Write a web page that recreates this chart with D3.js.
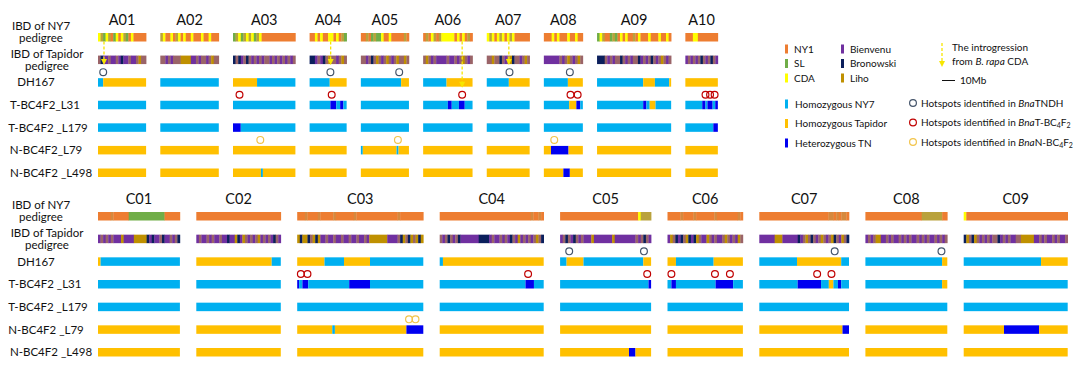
<!DOCTYPE html>
<meta charset="utf-8">
<script src="https://cdn.jsdelivr.net/npm/d3@7"></script>
<style>
  body { margin: 0; background: #fff; }
  text { font-family: Lato, "Liberation Sans", sans-serif; fill: #111; }
</style>
<div id="chart"></div>
<script>
    // chromosome names and lengths (Mb)
    const chromNames = ["A01","A02","A03","A04","A05","A06","A07","A08","A09","A10",
                        "C01","C02","C03","C04","C05","C06","C07","C08","C09"];
    const chromLengths = [37,45,48,28.5,37,38,33,30,57,25,
                          63,65,97,80,70,58,69,63,80];

    // IBD of NY7 pedigree, one char per bin (O NY1, G SL, Y CDA, o/d mixed)
    const ny7Ibd = [
        "YoGYoOGYOYoGOYOOOOO",
        "oYOOYOoYOYOOYOOOYOOYOOO",
        "GoYGoYoYGoYOOOOOOOOOOOOO",
        "OOYOYOOYYOYOoG",
        "OOoOGoGGYOOYOOOOOoO",
        "OoOYoOoYYYYYOYOYOoO",
        "YoYOYoYOYoYOOOOOO",
        "OOOYOYOOOYOOYOO",
        "GYoOOGoGOYOYOOoOYOOOYOOOYOOYO",
        "OOOYYOOOOOOOO",
        "OOOOOdOOOOOOGGGGGGGGGGGGGGOOOOOO",
        "O",
        "OOOdOOOOdOOOOOdOOOOOOOdOOOOOOOOOOOOOOOOdOOOOOOOOO",
        "OOOOOOOOOOOOOOOOOOOOOOOOOOOOOOOOOOOdOOdO",
        "OOOOOOOOOOOOOOOOOOOOOOOOOOOOOOYoooo",
        "OOOOOdOOOOdOOOOOOOdOOOOOOOOdO",
        "OOOOOOOOOOOOOOOOOOOOOOOOOOOddOdOddO",
        "OOOOOOOOOOOOOOOOOOOOOOooooooooOO",
        "YOOOOOOOOOOOOOOOOOOOOOOOOOOOOOOOOOOOOOOO"
    ];

    // IBD of Tapidor pedigree (P Bienvenu, B Bronowski, L Liho, m mixed)
    const tapIbd = [
        "mBPPmPPmPBPPmPPmLmm",
        "mmPmPmmmLLLLPPmPmmPmLmm",
        "BmBPmBmPmPmPmmPmPmPmPmPm",
        "BBPmPBmLmmPmLm",
        "mmPmBmLmPmLmPmLmmLm",
        "mLmPmPPPPmPPmPmLmPm",
        "mmLmmBmPmLBmmPmLm",
        "PPPPPPmPmLmPmLm",
        "BBBmPmPmmBmPmPmmBPmPmBmPmLmPm",
        "PmPmPmBmPmBmP",
        "PmPmPmPPPLPPPPLLLLLBPBPPmBPPmPmB",
        "PmPPmPmPPmPPBPPLBPLmPmPmLPmPmPBmP",
        "LBLLBmLBLPPmPPmPPmPPmPPmPPmPLLLLLLLPPPPmBLmBLmLBL",
        "mPmBmPmBPPPPPPPBBBBPmPPmPmPBmPLPmPmPmLmB",
        "PmBmPBmPmPPPLPPPPPPPLPPPPPPPPmPmBmP",
        "PLmBPBmLBPBLmPPLmPmPPmLmPmPLm",
        "PPPPPPLLLPPPPPPBPmLmBmPmLmPmLBmPLmB",
        "PmPmLLPPmPmPPmPmPmPPmPmPmPPmPmPm",
        "BLmBLmPmPmPmmBPmPmPPmmLLLLLPPmPmPPmPmPPm"
    ];

    // genotype rows: type, breakpoint (Mb), type, ...  (N NY7, T Tapidor, H het)
    const dh167 = [
        ["N",4,"T"], ["N"], ["T",18.5,"N"], ["N",15.5,"T"], ["N",31,"T"],
        ["N",18,"T"], ["N",17,"T"], ["N",18.5,"T"], ["N",35.5,"T",44.5,"N",55.5,"T"], ["T"],
        ["T",2,"N"], ["T",58,"N"], ["T",21,"N",36,"T",56,"N"], ["N",2.5,"T"],
        ["N",5,"T",18,"N",64,"T"], ["T",6.5,"N",35.5,"T"], ["N",29,"T",63,"N"],
        ["N",59,"T"], ["N",59.5,"T"]
    ];
    const l31 = [
        ["N"], ["N"], ["N"], ["N",16,"H",20.5,"N",23.5,"H",26,"N"], ["N"],
        ["N",19,"H",22,"N",27.5,"H",32,"N"], ["N"], ["N",19.5,"T",25,"H",28,"N"],
        ["N",35.5,"H",38,"N",40.5,"T",45,"N"], ["N",13,"H",15.5,"N",17,"H",21,"N",23,"H"],
        ["N"], ["N"], ["H",1.5,"N",4,"H",8.5,"N",40,"H",56,"N"], ["N",66,"H",72.5,"N"],
        ["N",68,"H"], ["N",3,"H",6.5,"N",37,"H",50.5,"N"],
        ["N",29.5,"H",47.5,"N",53.5,"T",57,"N",60.5,"H",63,"N"], ["N",59,"T"], ["N"]
    ];
    const l179 = [
        ["N"], ["N"], ["H",6,"N"], ["N"], ["N"], ["N"], ["N"], ["N"], ["N"], ["N",21.5,"H"],
        ["N"], ["N"], ["N"], ["N"], ["N"], ["N"], ["N"], ["N"], ["N"]
    ];
    const l79 = [
        ["T"], ["T"], ["T"], ["T"], ["N",1.5,"T",27.5,"N",29,"T"], ["T"], ["T"],
        ["T",5.5,"H",19,"T"], ["T"], ["T"],
        ["T"], ["T"], ["T",27,"N",29,"T",84,"H"], ["T"], ["T"], ["T"], ["T",64,"H"],
        ["T"], ["T",31,"H",58,"T"]
    ];
    const l498 = [
        ["T"], ["T"], ["T",21.5,"N",23,"T"], ["T"], ["T"], ["T"], ["T"],
        ["T",15,"H",20,"T"], ["T"], ["T"],
        ["T"], ["T"], ["T"], ["T"], ["T",53,"H",58,"T"], ["T"], ["T"], ["T"], ["T"]
    ];

    // hotspots [chromosome, Mb]
    const dhHotspots = [["A01",4],["A04",16],["A05",29.5],["A07",17.5],["A08",20],
                        ["C05",7],["C05",64.5],["C07",58],["C08",58.5]];
    const tHotspots = [["A03",5],["A04",17],["A06",30],["A08",20.5],["A08",26],
                       ["A10",15.5],["A10",19],["A10",22.5],["C03",2.8],["C03",7.9],
                       ["C04",68],["C05",67],["C06",3],["C06",36.5],["C06",48],
                       ["C07",44.5],["C07",55.5]];
    const nHotspots = [["A03",21],["A05",28.5],["A08",8],["C03",86],["C03",91]];

    // introgression from B. rapa CDA [chromosome, Mb, last row reached]
    const introgressions = [["A01",4.6,"tap"],["A04",16.2,"tap"],["A06",30,"dh"],["A07",17,"tap"]];

    const rowKeys = ["ny7","tap","dh","l31","l179","l79","l498"];
    const labelsA = [["IBD of NY7","pedigree"],["IBD of Tapidor","pedigree"],["DH167"],
                     ["T-BC4F2_L31"],["T-BC4F2 _L179"],["N-BC4F2_L79"],["N-BC4F2 _L498"]];
    const labelsC = [["IBD of NY7","pedigree"],["IBD of Tapidor","pedigree"],["DH167"],
                     ["T-BC4F2 _L31"],["T-BC4F2 _L179"],["N-BC4F2 _L79"],["N-BC4F2 _L498"]];

    const ibdColor = {O:"#ED7D31", G:"#70AD47", Y:"#FFFF00", o:"#B9A23C", d:"#D5893E",
                      P:"#7030A0", B:"#0B1F5C", L:"#BF9000", m:"#9A6468"};
    const genoColor = {N:"#00B0F0", T:"#FFC000", H:"#0000F0"};
    const hotColor = {dh:"#44546A", l31:"#C00000", l79:"#F2C44A"};

    const k = 1.3;       // px per Mb
    const barH = 8.5;
    const labelX = [41, 47, 36, 45, 48, 46, 51];

    const svg = d3.select("#chart").append("svg")
        .attr("width", 1080)
        .attr("height", 372);

    const sections = [
        {prefix: "A", x0: 98, gap: 14.2, titleY: 25, top: 33, bottom: 168.5, labels: labelsA},
        {prefix: "C", x0: 98, gap: 16.4, titleY: 204, top: 212, bottom: 348, labels: labelsC}
    ];

    const rowData = {dh: dh167, l31: l31, l179: l179, l79: l79, l498: l498};

    const segs = (spec, len) => {
        let out = [];
        for (let i = 0; i < spec.length; i += 2) {
            out.push({type: spec[i], start: i === 0 ? 0 : spec[i - 1],
                      end: i + 1 < spec.length ? spec[i + 1] : len});
        }
        return out;
    };

    const runs = (str, len) => {
        const w = len / str.length;
        let out = [];
        for (let i = 0; i < str.length; i++) {
            if (out.length && out[out.length - 1].type === str[i]) out[out.length - 1].end = (i + 1) * w;
            else out.push({type: str[i], start: i * w, end: (i + 1) * w});
        }
        return out;
    };

    const panelsByName = {};

    sections.forEach(sec => {
        const y = d3.scalePoint().domain(rowKeys).range([sec.top, sec.bottom]);
        const g = svg.append("g");

        // row labels
        sec.labels.forEach((lines, i) => {
            const cy = y(rowKeys[i]) + barH / 2;
            let offs = [4];
            if (i === 0) offs = [-7.5, 4.5];
            if (i === 1) offs = [-1.5, 10];
            lines.forEach((t, j) => {
                g.append("text")
                    .attr("x", labelX[i])
                    .attr("y", cy + offs[j])
                    .attr("text-anchor", "middle")
                    .style("font-size", "11.5px")
                    .text(t);
            });
        });

        let cursor = sec.x0;
        chromNames.forEach((name, ci) => {
            if (name[0] !== sec.prefix) return;
            const len = chromLengths[ci];
            const x = d3.scaleLinear().domain([0, len]).range([cursor, cursor + len * k]);
            cursor += len * k + sec.gap;
            panelsByName[name] = {x, y};

            g.append("text")
                .attr("x", x(len / 2))
                .attr("y", sec.titleY)
                .attr("text-anchor", "middle")
                .style("font-size", "14.5px")
                .text(name);

            // IBD rows
            [["ny7", ny7Ibd[ci]], ["tap", tapIbd[ci]]].forEach(([key, str]) => {
                g.append("g").selectAll("rect")
                    .data(runs(str, len))
                    .join("rect")
                    .attr("x", d => x(d.start))
                    .attr("width", d => x(d.end) - x(d.start) + 0.3)
                    .attr("y", y(key))
                    .attr("height", barH)
                    .attr("fill", d => ibdColor[d.type]);
            });

            // genotype rows
            ["dh", "l31", "l179", "l79", "l498"].forEach(key => {
                g.append("g").selectAll("rect")
                    .data(segs(rowData[key][ci], len))
                    .join("rect")
                    .attr("x", d => x(d.start))
                    .attr("width", d => x(d.end) - x(d.start))
                    .attr("y", y(key))
                    .attr("height", barH)
                    .attr("fill", d => genoColor[d.type]);
            });
        });
    });

    // introgression arrows
    const drawArrow = (sel, cx, y1, y2) => {
        sel.append("line")
            .attr("x1", cx).attr("x2", cx)
            .attr("y1", y1).attr("y2", y2 - 4)
            .attr("stroke", "#F7E600")
            .attr("stroke-width", 1.3)
            .attr("stroke-dasharray", "3,2");
        sel.append("path")
            .attr("d", `M${cx - 3},${y2 - 5}L${cx + 3},${y2 - 5}L${cx},${y2 + 1}Z`)
            .attr("fill", "#F7E600");
    };

    introgressions.forEach(([name, pos, to]) => {
        const p = panelsByName[name];
        drawArrow(svg, p.x(pos), p.y("ny7") + barH, p.y(to) + barH);
    });

    // hotspot circles
    [[dhHotspots, "dh"], [tHotspots, "l31"], [nHotspots, "l79"]].forEach(([list, key]) => {
        svg.append("g").selectAll("circle")
            .data(list)
            .join("circle")
            .attr("cx", d => panelsByName[d[0]].x(d[1]))
            .attr("cy", d => panelsByName[d[0]].y(key) - 6)
            .attr("r", 3.4)
            .attr("fill", "none")
            .attr("stroke", hotColor[key])
            .attr("stroke-width", 1.2);
    });

    // legend
    const legend = svg.append("g").style("font-size", "10px");
    const ancestors = [["NY1","O"],["SL","G"],["CDA","Y"],["Bienvenu","P"],["Bronowski","B"],["Liho","L"]];
    ancestors.forEach(([name, code], i) => {
        const lx = i < 3 ? 785 : 841;
        const ly = 49 + (i % 3) * 14.5;
        legend.append("rect").attr("x", lx).attr("y", ly - 4.5).attr("width", 3).attr("height", 9)
            .attr("fill", ibdColor[code]);
        legend.append("text").attr("x", lx + 9).attr("y", ly + 3.5).text(name);
    });

    const genoLegend = [["Homozygous NY7","N"],["Homozygous Tapidor","T"],["Heterozygous TN","H"]];
    genoLegend.forEach(([name, code], i) => {
        const ly = 104 + i * 19.5;
        legend.append("rect").attr("x", 785).attr("y", ly - 4.5).attr("width", 3).attr("height", 9)
            .attr("fill", genoColor[code]);
        legend.append("text").attr("x", 795).attr("y", ly + 3.5).text(name);
    });

    drawArrow(legend, 942, 43, 66);
    const t1 = legend.append("text").attr("x", 952).attr("y", 51);
    t1.text("The introgression");
    const t2 = legend.append("text").attr("x", 952).attr("y", 64.5);
    t2.append("tspan").text("from ");
    t2.append("tspan").style("font-style", "italic").text("B. rapa");
    t2.append("tspan").text(" CDA");

    legend.append("line").attr("x1", 942).attr("x2", 955).attr("y1", 80.5).attr("y2", 80.5)
        .attr("stroke", "#111").attr("stroke-width", 1);
    legend.append("text").attr("x", 960).attr("y", 84).text("10Mb");

    const hotLegend = [["dh", "TNDH", false], ["l31", "T-BC", true], ["l79", "N-BC", true]];
    hotLegend.forEach(([key, pop, sub], i) => {
        const ly = 103 + i * 19.5;
        legend.append("circle").attr("cx", 913).attr("cy", ly).attr("r", 3.4)
            .attr("fill", "none").attr("stroke", hotColor[key]).attr("stroke-width", 1.2);
        const t = legend.append("text").attr("x", 921).attr("y", ly + 3.5);
        t.append("tspan").text("Hotspots identified in ");
        t.append("tspan").style("font-style", "italic").text("Bna");
        t.append("tspan").text(pop);
        if (sub) {
            t.append("tspan").attr("dy", 2).style("font-size", "7px").text("4");
            t.append("tspan").attr("dy", -2).text("F");
            t.append("tspan").attr("dy", 2).style("font-size", "7px").text("2");
        }
    });
</script>
